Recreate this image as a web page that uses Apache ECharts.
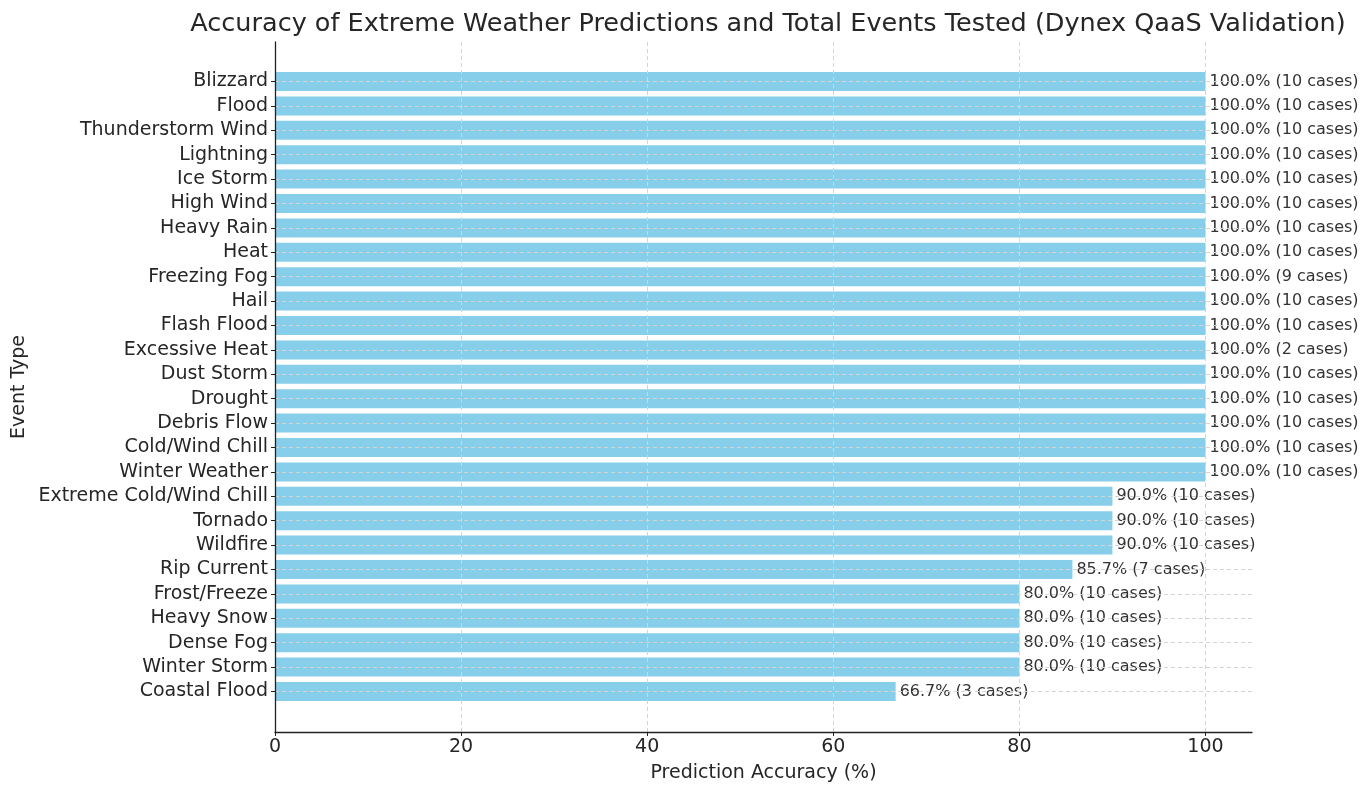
<!DOCTYPE html>
<html>
<head>
<meta charset="utf-8">
<script src="https://cdn.jsdelivr.net/npm/echarts@6/dist/echarts.min.js"></script>
<style>html,body{margin:0;padding:0;background:#fff;}#c{width:1371px;height:794px;}</style>
</head>
<body>
<div id="c"></div>
<script>
const categories = ['Blizzard','Flood','Thunderstorm Wind','Lightning','Ice Storm','High Wind','Heavy Rain','Heat','Freezing Fog','Hail','Flash Flood','Excessive Heat','Dust Storm','Drought','Debris Flow','Cold/Wind Chill','Winter Weather','Extreme Cold/Wind Chill','Tornado','Wildfire','Rip Current','Frost/Freeze','Heavy Snow','Dense Fog','Winter Storm','Coastal Flood'];
const accuracy = [100,100,100,100,100,100,100,100,100,100,100,100,100,100,100,100,100,90,90,90,85.7,80,80,80,80,66.7];
const cases = [10,10,10,10,10,10,10,10,9,10,10,2,10,10,10,10,10,10,10,10,7,10,10,10,10,3];
const xTicks = [0,20,40,60,80,100];

const FONT = 'DejaVu Sans';
const chart = echarts.init(document.getElementById('c'));
const grid = {color:'#d4d4d4', width:1, type:[4,3]};
chart.setOption({
  animation:false,
  backgroundColor:'#fff',
  textStyle:{fontFamily:FONT},
  title:{text:'Accuracy of Extreme Weather Predictions and Total Events Tested (Dynex QaaS Validation)',
    left:763, top:6, textAlign:'center',
    textStyle:{fontFamily:FONT, fontSize:25.5, fontWeight:'normal', color:'#262626'}},
  grid:[
    {left:275, right:119, top:81.5, height:610},
    {left:275, right:119, top:42, bottom:62}
  ],
  xAxis:[
    {gridIndex:0, type:'value', min:0, max:105, show:false},
    {gridIndex:1, type:'value', min:0, max:105, interval:20, z:3,
      axisLine:{show:true, lineStyle:{color:'#222', width:1.3}},
      axisTick:{show:true, length:4, customValues:xTicks, lineStyle:{color:'#222'}},
      axisLabel:{customValues:xTicks, fontSize:19, color:'#262626', margin:6},
      splitLine:{show:true, showMinLine:false, lineStyle:grid},
      name:'Prediction Accuracy (%)', nameLocation:'middle', nameGap:32,
      nameTextStyle:{fontSize:19, color:'#262626', verticalAlign:'top'}}
  ],
  yAxis:[
    {gridIndex:0, type:'category', data:categories, inverse:true, boundaryGap:false, z:3,
      axisLine:{show:false},
      axisTick:{show:true, length:4, lineStyle:{color:'#222'}},
      axisLabel:{fontSize:19, color:'#262626', margin:7, interval:0},
      splitLine:{show:true, lineStyle:grid}},
    {gridIndex:1, type:'value', min:0, max:1, z:3,
      axisLine:{show:true, lineStyle:{color:'#222', width:1.3}},
      axisTick:{show:false}, axisLabel:{show:false}, splitLine:{show:false},
      name:'Event Type', nameLocation:'middle', nameGap:246, nameRotate:90,
      nameTextStyle:{fontSize:19, color:'#262626'}}
  ],
  series:[{
    type:'bar', xAxisIndex:0, yAxisIndex:0, data:accuracy, barWidth:19, clip:false,
    itemStyle:{color:'#87CEEB'},
    label:{show:true, position:'right', distance:4, fontSize:16, color:'#333',
      formatter:p=>p.value.toFixed(1)+'% ('+cases[p.dataIndex]+' cases)'}
  }]
});
</script>
</body>
</html>
